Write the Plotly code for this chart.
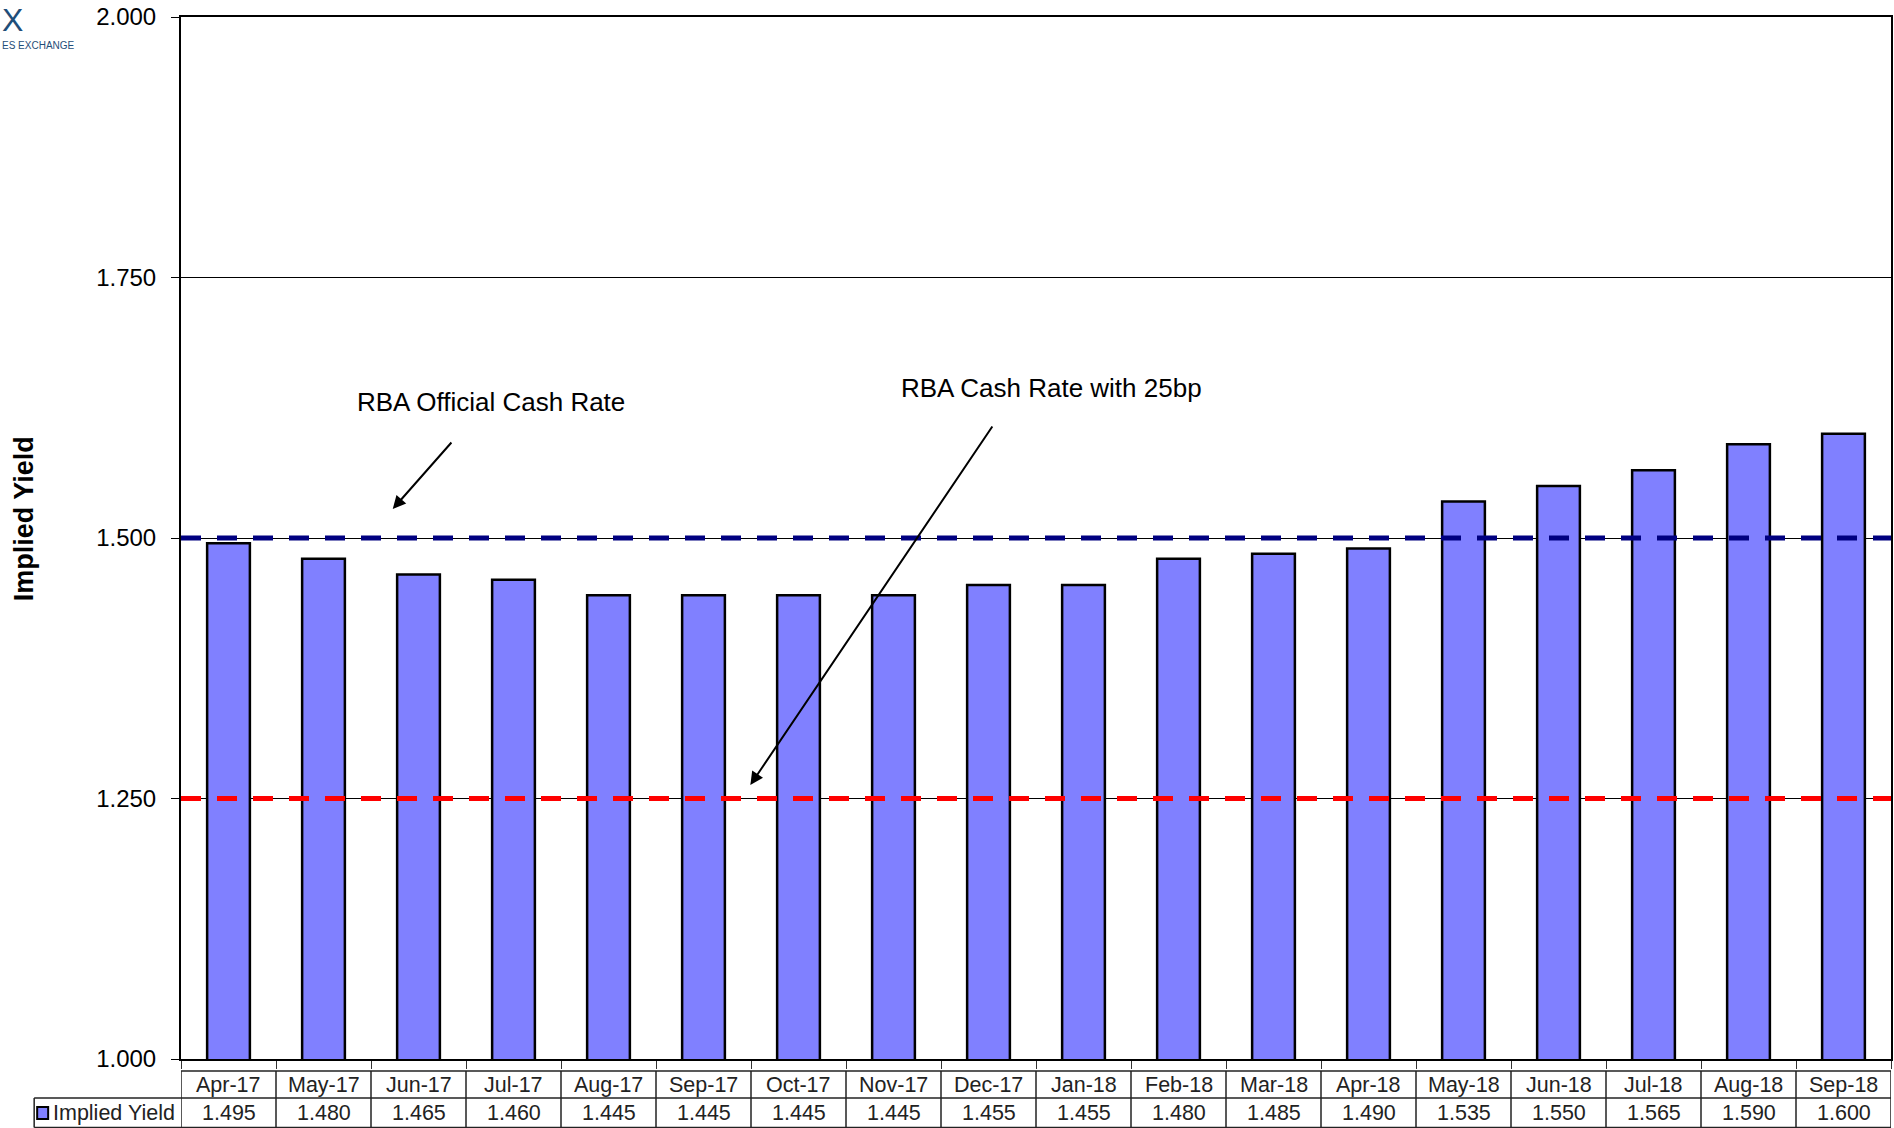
import plotly.graph_objects as go

months = ["Apr-17", "May-17", "Jun-17", "Jul-17", "Aug-17", "Sep-17", "Oct-17", "Nov-17", "Dec-17",
          "Jan-18", "Feb-18", "Mar-18", "Apr-18", "May-18", "Jun-18", "Jul-18", "Aug-18", "Sep-18"]
implied_yield = [1.495, 1.480, 1.465, 1.460, 1.445, 1.445, 1.445, 1.445, 1.455,
                 1.455, 1.480, 1.485, 1.490, 1.535, 1.550, 1.565, 1.590, 1.600]
y_ticks = [1.000, 1.250, 1.500, 1.750, 2.000]
rba_cash_rate = 1.50
rba_cut_rate = 1.25

W, H = 1894, 1128
L, R, T, B = 181, 1, 17, 69
plot_h = H - T - B
plot_w = W - L - R
FONT = "Liberation Sans, Arial, sans-serif"


def py(px):
    """pixel y (from top) -> paper y"""
    return (H - B - px) / plot_h


def px_(x):
    """pixel x (from left) -> paper x"""
    return (x - L) / plot_w


fig = go.Figure()
fig.add_trace(go.Bar(
    x=months, y=implied_yield, width=0.45,
    marker=dict(color="#8080FF", line=dict(color="black", width=2.5)),
    name="Implied Yield", showlegend=False, hoverinfo="skip",
))

shapes = []
# reference rate dashed lines
for val, col in [(rba_cash_rate, "#000080"), (rba_cut_rate, "#FF0000")]:
    shapes.append(dict(type="line", xref="paper", yref="y", x0=0, x1=1, y0=val, y1=val,
                       line=dict(color=col, width=5, dash="20px,16px"), layer="above"))

# data table grid
n = len(months)
yt, ym, yb = py(1071), py(1098), py(1127.5)
gcol = "#222"
shapes.append(dict(type="line", xref="x", yref="paper", x0=-0.5, x1=n - 0.5, y0=yt, y1=yt,
                   line=dict(color=gcol, width=1.5)))
shapes.append(dict(type="line", xref="paper", yref="paper", x0=px_(34), x1=1, y0=ym, y1=ym,
                   line=dict(color=gcol, width=1.5)))
shapes.append(dict(type="line", xref="paper", yref="paper", x0=px_(34), x1=1, y0=yb, y1=yb,
                   line=dict(color=gcol, width=1.5)))
for i in range(n + 1):
    shapes.append(dict(type="line", xref="x", yref="paper", x0=i - 0.5, x1=i - 0.5, y0=yt, y1=yb,
                       line=dict(color=gcol, width=1.5)))
shapes.append(dict(type="line", xref="paper", yref="paper", x0=px_(34), x1=px_(34),
                   y0=ym, y1=yb, line=dict(color=gcol, width=1.5)))
# legend key square
shapes.append(dict(type="rect", xref="paper", yref="paper", x0=px_(37), x1=px_(48), y0=py(1119), y1=py(1107),
                   fillcolor="#8080FF", line=dict(color="black", width=2)))

annotations = []
tfont = dict(size=21.5, color="#222", family=FONT)
for m, v in zip(months, implied_yield):
    annotations.append(dict(x=m, y=py(1085), xref="x", yref="paper", text=m, showarrow=False,
                            font=tfont, xanchor="center", yanchor="middle"))
    annotations.append(dict(x=m, y=py(1113), xref="x", yref="paper", text=f"{v:.3f}", showarrow=False,
                            font=tfont, xanchor="center", yanchor="middle"))
annotations.append(dict(x=px_(51), y=py(1113), xref="paper", yref="paper",
                        text="Implied Yield", showarrow=False, xanchor="left", yanchor="middle",
                        font=tfont))

# rate labels and arrows
annotations.append(dict(x=px_(491), y=py(402), xref="paper", yref="paper",
                        text="RBA Official Cash Rate", showarrow=False, xanchor="center", yanchor="middle",
                        font=dict(size=26, color="black", family=FONT)))
annotations.append(dict(x=px_(1053), y=py(388), xref="paper", yref="paper",
                        text="RBA Cash Rate with 25bp", showarrow=False, xanchor="center", yanchor="middle",
                        font=dict(size=26, color="black", family=FONT)))
annotations.append(dict(x=px_(393), y=py(509), xref="paper", yref="paper", text="",
                        showarrow=True, ax=60, ay=-68, arrowhead=2, arrowsize=1.3, arrowwidth=2,
                        arrowcolor="black"))
annotations.append(dict(x=px_(751), y=py(785), xref="paper", yref="paper", text="",
                        showarrow=True, ax=243, ay=-360, arrowhead=2, arrowsize=1.3, arrowwidth=2,
                        arrowcolor="black"))

# y-axis title
annotations.append(dict(x=px_(24), y=py(519), xref="paper", yref="paper",
                        text="<b>Implied Yield</b>", showarrow=False, textangle=-90,
                        xanchor="center", yanchor="middle",
                        font=dict(size=27, color="black", family=FONT)))
# partial logo visible at top-left
annotations.append(dict(x=px_(0), y=py(0), xref="paper", yref="paper", text="X",
                        showarrow=False, xanchor="left", yanchor="top",
                        font=dict(size=32, color="#1F4E79", family=FONT)))
annotations.append(dict(x=px_(0), y=py(38), xref="paper", yref="paper", text="ES EXCHANGE",
                        showarrow=False, xanchor="left", yanchor="top",
                        font=dict(size=10, color="#1F4E79", family=FONT)))

fig.update_layout(
    width=W, height=H,
    margin=dict(l=L, r=R, t=T, b=B),
    paper_bgcolor="white", plot_bgcolor="white",
    shapes=shapes, annotations=annotations,
    xaxis=dict(type="category", showticklabels=False, tickson="boundaries", ticks="outside",
               ticklen=8, tickcolor="#333", showline=True, linecolor="black", linewidth=2,
               mirror=True, showgrid=False, range=[-0.5, n - 0.5]),
    yaxis=dict(range=[1.0, 2.0], tickvals=y_ticks, tickformat=".3f", ticks="outside", ticklen=8,
               tickcolor="black", showline=True, linecolor="black", linewidth=2, mirror=True,
               showgrid=True, gridcolor="black", gridwidth=1, zeroline=False,
               tickfont=dict(size=24, color="black", family=FONT), ticklabelstandoff=10),
)

fig.write_html("out.html", config={"displayModeBar": False},
               post_script="document.body.style.margin='0';document.body.style.overflow='hidden';")
